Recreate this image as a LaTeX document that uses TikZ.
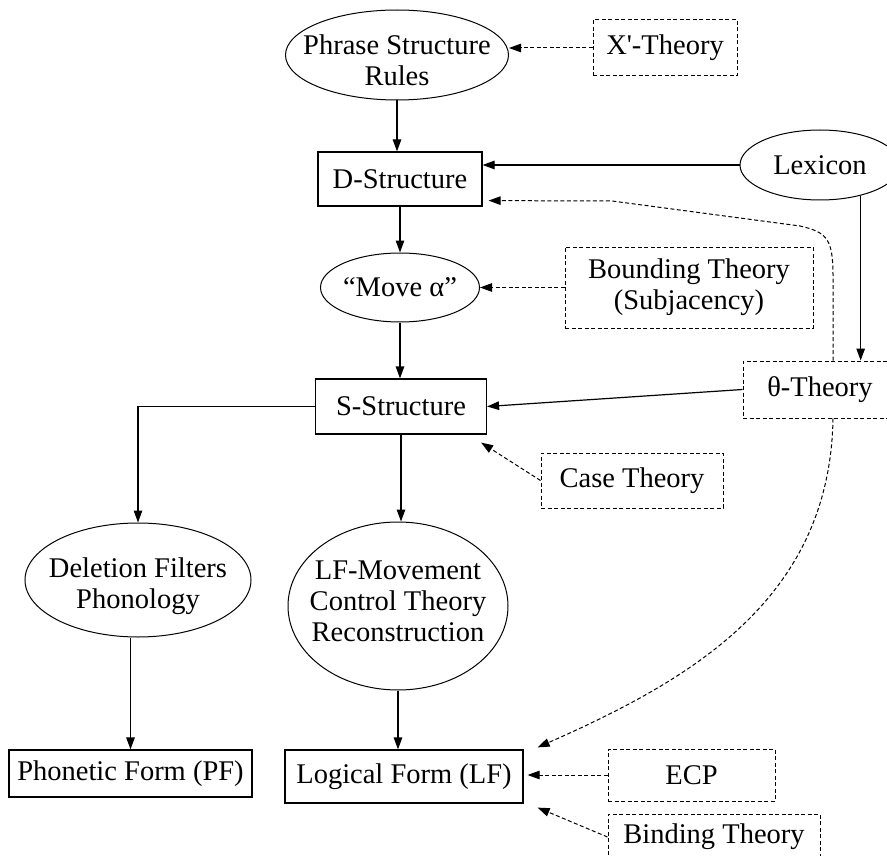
\documentclass[tikz,border=0pt]{standalone}
\usepackage{fontspec}
\setmainfont{Liberation Serif}
\usetikzlibrary{shapes.geometric,arrows.meta,calc}

\begin{document}
\begin{tikzpicture}[x=1pt,y=-1pt,
  font=\fontsize{28.5}{31}\selectfont,
  box/.style={draw, line width=1.2pt, rectangle, inner sep=0pt, align=center},
  dbox/.style={draw, line width=1pt, dash pattern=on 4pt off 2.5pt, rectangle, inner sep=0pt, align=center},
  oval/.style={draw, line width=1pt, ellipse, inner sep=0pt},
  link/.style={line width=1.2pt, -{Triangle[length=12pt,width=8.5pt]}},
  dlink/.style={link, line width=1pt, dash pattern=on 4pt off 2.5pt},
]
\useasboundingbox (0,0) rectangle (887,856);

% nodes of the model
\node[oval, minimum width=223, minimum height=90,
  label={[align=center,yshift=-5pt]center:{Phrase Structure\\Rules}}] (psr) at (397,55) {};
\node[dbox, minimum width=144, minimum height=56] (xbar) at (665,48) {X\textquotesingle-Theory};
\node[box, minimum width=164, minimum height=54] (ds) at (400,179) {D-Structure};
\node[oval, minimum width=160, minimum height=70, label={center:Lexicon}] (lex) at (820,165) {};
\node[oval, minimum width=159, minimum height=69, label={center:“Move α”}] (move) at (400,287.5) {};
\node[dbox, minimum width=248, minimum height=81] (bound) at (689,287.5) {Bounding Theory\\(Subjacency)};
\node[dbox, minimum width=154, minimum height=57] (theta) at (820,389.5) {θ-Theory};
\node[box, minimum width=171, minimum height=55] (ss) at (401,406.5) {S-Structure};
\node[dbox, minimum width=182, minimum height=55] (case) at (632,480.5) {Case Theory};
\node[oval, minimum width=226, minimum height=114,
  label={[align=center,yshift=-6pt]center:{Deletion Filters\\Phonology}}] (del) at (138,580) {};
\node[oval, minimum width=220, minimum height=168,
  label={[align=center,yshift=5pt]center:{LF-Movement\\Control Theory\\Reconstruction}}] (lfm) at (398,606) {};
\node[box, minimum width=243, minimum height=47] (pf) at (130.5,773.5) {Phonetic Form (PF)};
\node[box, minimum width=238, minimum height=53] (lf) at (404,776.5) {Logical Form (LF)};
\node[dbox, minimum width=167, minimum height=52] (ecp) at (691.5,775) {ECP};
\node[dbox, minimum width=212, minimum height=46] (bind) at (714,837) {Binding Theory};

% connectors
\draw[dlink] (xbar.west) -- (xbar.west -| psr.east);
\draw[link] (psr.south) -- (psr.south |- ds.north);
\draw[link] (lex.west) -- (lex.west -| ds.east);
\draw[link] (lex.-37) -- (lex.-37 |- theta.north);
\draw[link] (ds.south) -- (move.north);
\draw[dlink] (bound.west) -- (move.east);
\draw[link] (move.south) -- (move.south |- ss.north);
\draw[link] (theta.west) -- (ss.east);
\draw[dlink] ([xshift=13pt]theta.north) -- (833,275)
  .. controls (833,238) and (826,232) .. (800,226) -- (612,201)
  -- ([xshift=6pt,yshift=6pt]ds.south east);
\draw[dlink] ([xshift=13pt]theta.south) .. controls (830,600) and (690,680)
  .. ([xshift=14pt,yshift=2pt]lf.north east);
\draw[dlink] (case.west) -- ([xshift=-6pt,yshift=-8pt]ss.south east);
\draw[link] (ss.west) -| (del.north);
\draw[link] (ss.south) -- (ss.south |- lfm.north);
\draw[link] (pf.north |- del.south) -- (pf.north);
\draw[link] (lfm.south) -- (lfm.south |- lf.north);
\draw[dlink] (ecp.west) -- ([xshift=4pt]ecp.west -| lf.east);
\draw[dlink] (bind.west) -- ([xshift=14pt,yshift=-4pt]lf.south east);
\end{tikzpicture}
\end{document}
